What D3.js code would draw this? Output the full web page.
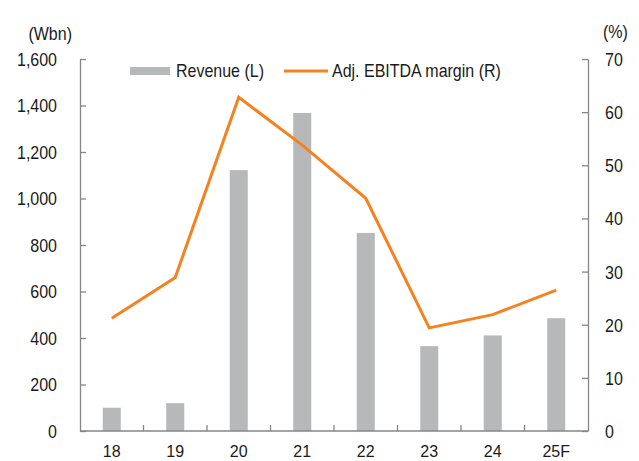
<!doctype html>
<html lang="en">
<head>
    <meta charset="utf-8">
    <title>Revenue and Adj. EBITDA margin</title>
    <script src="https://cdnjs.cloudflare.com/ajax/libs/d3/7.8.5/d3.min.js"></script>
    <style>
        body { margin: 0; background: #fff; }
        #chart text {
            font-family: "Liberation Sans", Arial, sans-serif; font-size: 16px; fill: #1a1a1a;
            transform-box: fill-box; transform-origin: center; transform: scaleY(1.13);
        }
        #chart .x-axis text { transform: none; }
        #chart .domain, #chart .tick line { stroke: #868686; stroke-width: 1.3; }
    </style>
</head>
<body>
    <div id="chart"></div>
    <script>
        // data
        var years = ["18", "19", "20", "21", "22", "23", "24", "25F"];
        var revenue = [100, 120, 1122, 1368, 852, 365, 411, 485];          // Wbn, left axis
        var ebitdaMargin = [21.2, 28.9, 62.8, 53.8, 43.8, 19.4, 21.9, 26.5]; // %, right axis
        var leftTicks = [0, 200, 400, 600, 800, 1000, 1200, 1400, 1600];
        var rightTicks = [0, 10, 20, 30, 40, 50, 60, 70];

        var width = 639, height = 461;
        var plot = { left: 80, right: 588, top: 59, bottom: 431 };

        var svg = d3.select("#chart")
            .append("svg")
            .attr("width", width)
            .attr("height", height);

        var x = d3.scaleBand()
            .domain(years)
            .range([plot.left, plot.right]);

        var yL = d3.scaleLinear()
            .domain([0, 1600])
            .range([plot.bottom, plot.top]);

        var yR = d3.scaleLinear()
            .domain([0, 70])
            .range([plot.bottom, plot.top]);

        // bars
        var barW = 18;
        svg.selectAll("rect.bar")
            .data(revenue)
            .enter()
            .append("rect")
            .attr("class", "bar")
            .attr("x", function(d, i) { return x(years[i]) + x.bandwidth() / 2 - barW / 2; })
            .attr("y", function(d) { return yL(d); })
            .attr("width", barW)
            .attr("height", function(d) { return yL(0) - yL(d); })
            .attr("fill", "#b7b8ba");

        // margin line
        var line = d3.line()
            .x(function(d, i) { return x(years[i]) + x.bandwidth() / 2; })
            .y(function(d) { return yR(d); });

        svg.append("path")
            .datum(ebitdaMargin)
            .attr("d", line)
            .attr("fill", "none")
            .attr("stroke", "#f5821f")
            .attr("stroke-width", 3);

        // axes
        svg.append("g")
            .attr("transform", "translate(" + plot.left + ",0)")
            .call(d3.axisLeft(yL).tickValues(leftTicks).tickSizeInner(-6).tickSizeOuter(0).tickPadding(23)
                .tickFormat(d3.format(",")))
            .call(function(g) { g.selectAll("text").attr("dy", "0.36em"); });

        svg.append("g")
            .attr("transform", "translate(" + plot.right + ",0)")
            .call(d3.axisRight(yR).tickValues(rightTicks).tickSizeInner(-6).tickSizeOuter(0).tickPadding(17))
            .call(function(g) { g.selectAll("text").attr("dy", "0.36em"); });

        var xAxis = svg.append("g")
            .attr("class", "x-axis")
            .attr("transform", "translate(0," + plot.bottom + ")")
            .call(d3.axisBottom(x).tickSize(0).tickPadding(15));
        xAxis.select(".domain").attr("d", "M" + plot.left + ",0H" + plot.right);

        // category separator ticks pointing up
        xAxis.selectAll("line.sep")
            .data(years.slice(1))
            .enter()
            .append("line")
            .attr("class", "sep")
            .attr("x1", function(d) { return x(d); })
            .attr("x2", function(d) { return x(d); })
            .attr("y1", 0)
            .attr("y2", -6)
            .attr("stroke", "#868686")
            .attr("stroke-width", 1.3);

        // unit labels
        svg.append("text").attr("x", 72).attr("y", 34).attr("dy", "0.36em")
            .attr("text-anchor", "end").text("(Wbn)");
        svg.append("text").attr("x", 603).attr("y", 32).attr("dy", "0.36em")
            .text("(%)");

        // legend
        var legend = svg.append("g");
        legend.append("rect")
            .attr("x", 130).attr("y", 67).attr("width", 40).attr("height", 8)
            .attr("fill", "#b7b8ba");
        legend.append("text").attr("x", 176).attr("y", 71).attr("dy", "0.36em").text("Revenue (L)");
        legend.append("line")
            .attr("x1", 284).attr("x2", 328).attr("y1", 71).attr("y2", 71)
            .attr("stroke", "#f5821f").attr("stroke-width", 3);
        legend.append("text").attr("x", 332).attr("y", 71).attr("dy", "0.36em").text("Adj. EBITDA margin (R)");
    </script>
</body>
</html>
